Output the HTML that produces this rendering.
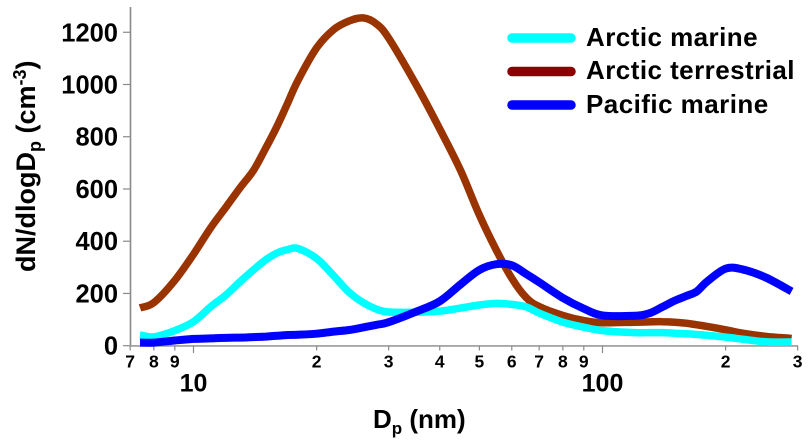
<!DOCTYPE html>
<html lang="en">
<head>
<meta charset="utf-8">
<title>Particle size distribution</title>
<style>
html,body{margin:0;padding:0;background:#fff;width:808px;height:447px;overflow:hidden}
svg{display:block;font-family:"Liberation Sans",Arial,sans-serif;font-weight:bold;fill:#000}
</style>
</head>
<body>
<svg id="chart" width="808" height="447" viewBox="0 0 808 447" xmlns="http://www.w3.org/2000/svg">
  <g id="axes"></g>
  <g id="series"></g>
  <text transform="translate(35 272) rotate(-90)" font-size="27">dN/dlogD<tspan font-size="18" dy="6">p</tspan><tspan dy="-6"> (cm</tspan><tspan font-size="18" dy="-9">-3</tspan><tspan dy="9">)</tspan></text>
  <text x="373" y="428" font-size="26">D<tspan font-size="17" dy="6">p</tspan><tspan dy="-6"> (nm)</tspan></text>
  <g>
    <g>
      <line x1="512" x2="571" y1="38" y2="38" stroke="#00ffff" stroke-width="9.5" stroke-linecap="round"/>
      <text x="586" y="46" font-size="26" letter-spacing="0.45">Arctic marine</text>
    </g>
    <g>
      <line x1="512" x2="571" y1="71.5" y2="71.5" stroke="#8b0000" stroke-width="9.5" stroke-linecap="round"/>
      <text x="586" y="79" font-size="26" letter-spacing="0.45">Arctic terrestrial</text>
    </g>
    <g>
      <line x1="512" x2="571" y1="105" y2="105" stroke="#0000ff" stroke-width="9.5" stroke-linecap="round"/>
      <text x="586" y="113" font-size="26" letter-spacing="0.45">Pacific marine</text>
    </g>
  </g>
</svg>
<script>
var diameters = [7.4,8,9,10,11,12,13,14,15,16,17,18,20,22,24,26,28,30,35,40,45,50,55,60,65,70,80,90,100,120,130,140,150,160,170,180,200,220,250,290];
var arcticTerrestrial = [145,165,250,350,450,530,605,670,755,840,930,1015,1140,1210,1243,1255,1232,1178,1000,830,670,500,366,258,185,150,116,96,88,90,91,92,90,86,80,74,61,48,36,28];
var arcticMarine = [41,34,58,92,148,194,245,290,328,355,368,372,334,268,205,165,140,129,128,132,144,156,162,158,149,125,90,71,58,50,50,50,48,46,43,40,33,25,15,14];
var pacificMarine = [12,12,20,26,28,30,31,33,35,38,41,42,46,54,60,70,80,90,130,170,235,290,312,308,275,243,183,142,116,115,124,148,172,190,208,245,295,292,262,208];
var yTickValues = [0,200,400,600,800,1000,1200];
var xTickValues = [7,8,9,10,20,30,40,50,60,70,80,90,100,200,300];
var xTickLabels = ['7','8','9','10','2','3','4','5','6','7','8','9','100','2','3'];

var NS = 'http://www.w3.org/2000/svg';
function xScale(d){ return 193.5 + 409 * (Math.log10(d) - 1); }
function yScale(v){ return 345.7 - v * 0.2612; }
function make(tag, attrs, parent){
  var el = document.createElementNS(NS, tag);
  for (var k in attrs) el.setAttribute(k, attrs[k]);
  parent.appendChild(el);
  return el;
}
var axes = document.getElementById('axes');
var grey = '#8a8a8a';

var ySpine = make('line', {x1:130.5, x2:130.5, y1:7, y2:346.5, stroke:grey, 'stroke-width':1.6}, axes);


var xSpine = make('line', {x1:130, x2:798, y1:345.9, y2:345.9, stroke:'#9a9a9a', 'stroke-width':1.6}, axes);



yTickValues.forEach(function(v){
  var y = yScale(v);
  var t = make('line', {x1:123, x2:130, y1:y, y2:y, stroke:grey, 'stroke-width':1.2}, axes);
  
  
  var l = make('text', {x:118, y:y + 9, 'font-size':25.5, 'text-anchor':'end'}, axes);
  
  
  l.textContent = v;
});

xTickValues.forEach(function(d, i){
  var x = xScale(d);
  var major = d === 10 || d === 100;
  var t = make('line', {x1:x, x2:x, y1:346, y2:major ? 353 : 350.5, stroke:grey, 'stroke-width':1.2}, axes);
  
  
  var l = make('text', {x:x, y:major ? 391.5 : 367.5, 'font-size':major ? 25 : 17.5, 'text-anchor':'middle'}, axes);
  
  
  l.textContent = xTickLabels[i];
});

function linePath(values){
  var p = values.map(function(v, i){ return [xScale(diameters[i]), yScale(v)]; });
  var s = 'M' + p[0][0].toFixed(1) + ' ' + p[0][1].toFixed(1);
  for (var i = 0; i < p.length - 1; i++){
    var a = p[Math.max(i - 1, 0)], b = p[i], c = p[i + 1], e = p[Math.min(i + 2, p.length - 1)];
    s += 'C' + (b[0] + (c[0] - a[0]) / 6).toFixed(1) + ' ' + (b[1] + (c[1] - a[1]) / 6).toFixed(1) + ' ' +
         (c[0] - (e[0] - b[0]) / 6).toFixed(1) + ' ' + (c[1] - (e[1] - b[1]) / 6).toFixed(1) + ' ' +
         c[0].toFixed(1) + ' ' + c[1].toFixed(1);
  }
  return s;
}
var seriesGroup = document.getElementById('series');
var terr = make('path', {d:linePath(arcticTerrestrial), fill:'none', stroke:'#993300', 'stroke-width':7.5, 'stroke-linejoin':'round'}, seriesGroup);


var marine = make('path', {d:linePath(arcticMarine), fill:'none', stroke:'#00ffff', 'stroke-width':7.5, 'stroke-linejoin':'round'}, seriesGroup);


var pacific = make('path', {d:linePath(pacificMarine), fill:'none', stroke:'#0000ff', 'stroke-width':8, 'stroke-linejoin':'round'}, seriesGroup);


</script>
</body>
</html>
